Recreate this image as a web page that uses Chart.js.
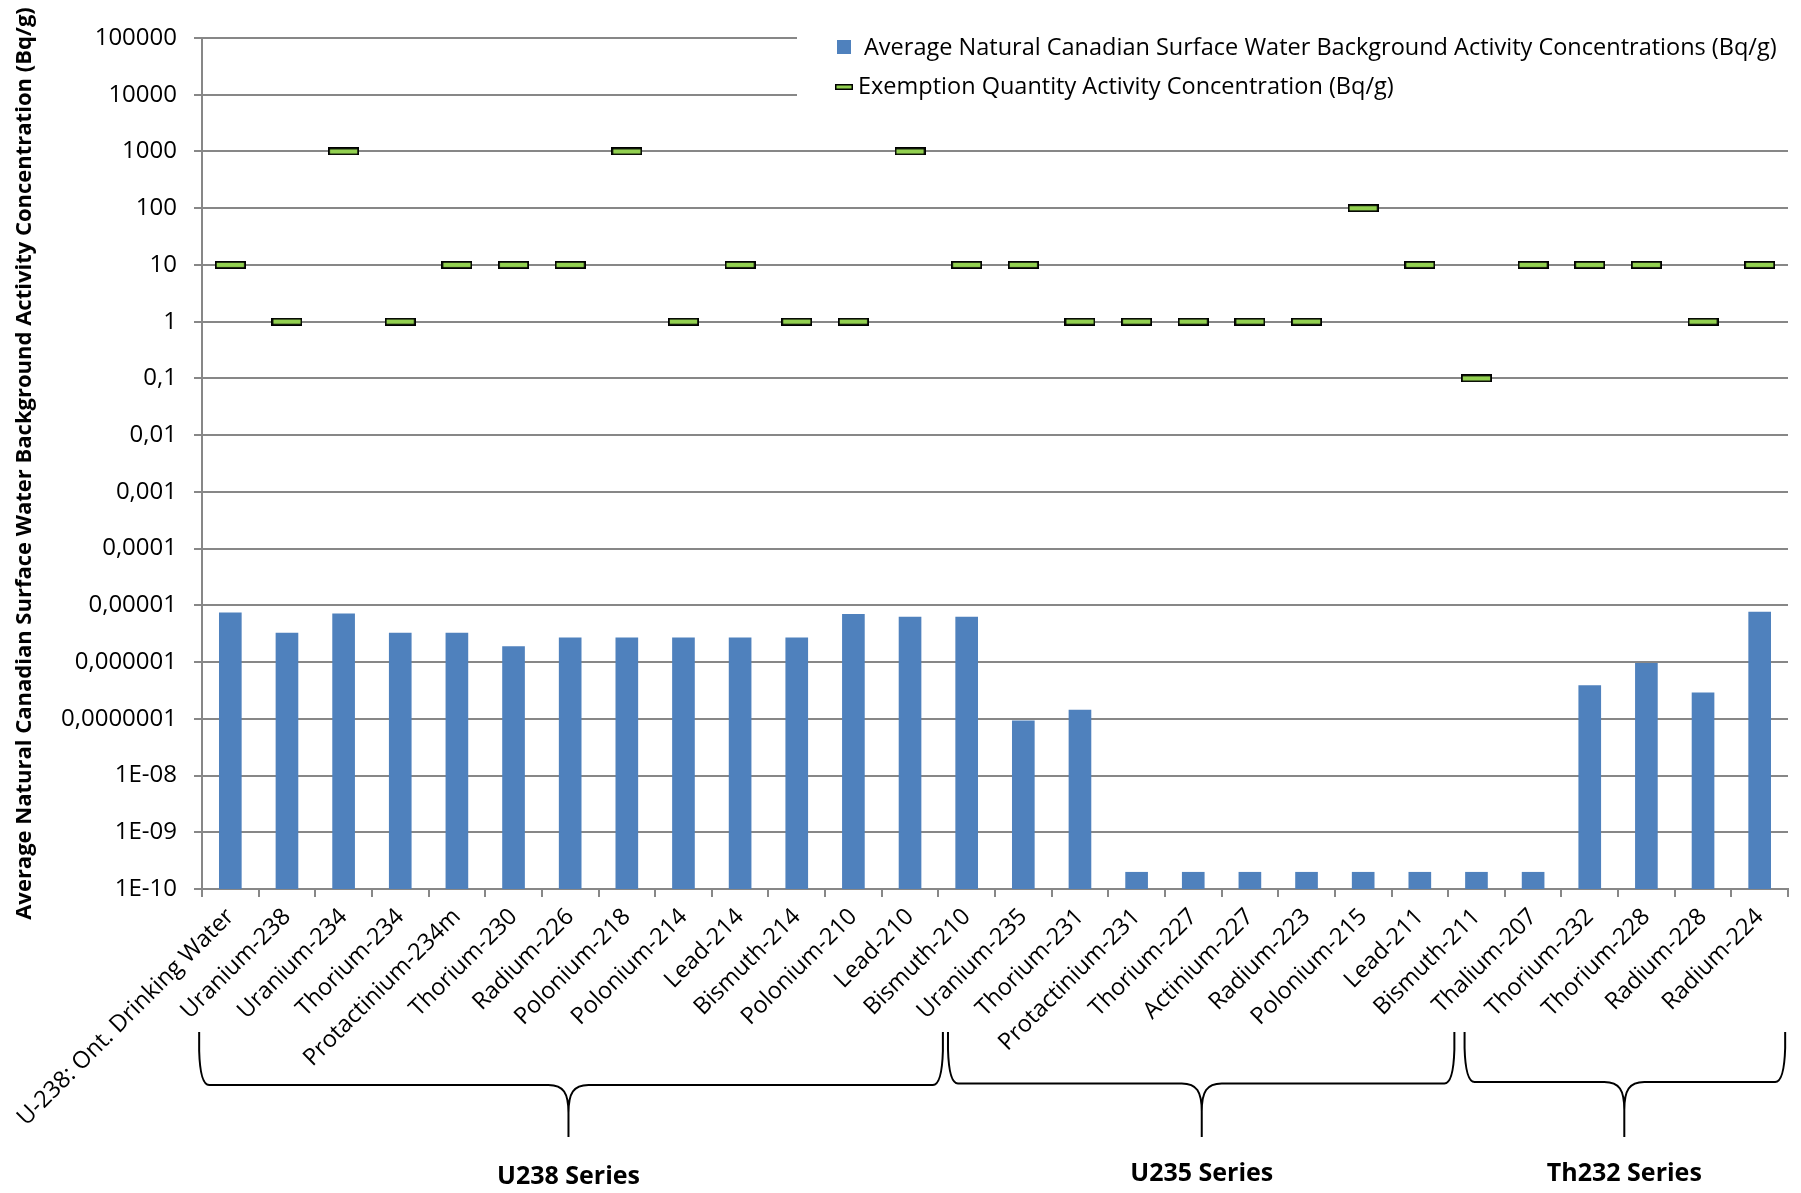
<!DOCTYPE html>
<html>
<head>
<meta charset="utf-8">
<script src="https://cdn.jsdelivr.net/npm/chart.js@4.4.1/dist/chart.umd.min.js"></script>
<style>
  html, body { margin: 0; padding: 0; background: #ffffff; }
  #wrap { width: 1801px; height: 1193px; position: relative; }
</style>
</head>
<body>
<div id="wrap"><canvas id="chart" width="1801" height="1193"></canvas></div>
<script>
// Radionuclides, in decay-series order
const categories = [
  'U-238: Ont. Drinking Water', 'Uranium-238', 'Uranium-234', 'Thorium-234', 'Protactinium-234m',
  'Thorium-230', 'Radium-226', 'Polonium-218', 'Polonium-214', 'Lead-214', 'Bismuth-214',
  'Polonium-210', 'Lead-210', 'Bismuth-210', 'Uranium-235', 'Thorium-231', 'Protactinium-231',
  'Thorium-227', 'Actinium-227', 'Radium-223', 'Polonium-215', 'Lead-211', 'Bismuth-211',
  'Thalium-207', 'Thorium-232', 'Thorium-228', 'Radium-228', 'Radium-224'
];

// Average natural Canadian surface water background activity (Bq/g)
const backgroundActivity = [
  7.5e-6, 3.3e-6, 7.2e-6, 3.3e-6, 3.3e-6, 1.9e-6, 2.7e-6, 2.7e-6, 2.7e-6, 2.7e-6, 2.7e-6,
  7.0e-6, 6.3e-6, 6.3e-6, 9.3e-8, 1.45e-7, 2e-10, 2e-10, 2e-10, 2e-10, 2e-10, 2e-10, 2e-10,
  2e-10, 3.9e-7, 9.6e-7, 2.9e-7, 7.7e-6
];

// Exemption quantity activity concentration (Bq/g)
const exemptionQuantity = [
  10, 1, 1000, 1, 10, 10, 10, 1000, 1, 10, 1, 1, 1000, 10, 10, 1, 1, 1, 1, 1, 100, 10, 0.1,
  10, 10, 10, 1, 10
];

// Decade tick labels, from 1E-10 up to 100000
const yTickLabels = [
  '1E-10', '1E-09', '1E-08', '0,0000001', '0,000001', '0,00001', '0,0001', '0,001', '0,01',
  '0,1', '1', '10', '100', '1000', '10000', '100000'
];

const seriesNames = ['Average Natural Canadian Surface Water Background Activity Concentrations (Bq/g)',
                     'Exemption Quantity Activity Concentration (Bq/g)'];
const axisTitle = 'Average Natural Canadian Surface Water Background Activity Concentration (Bq/g)';
const groupNames = ['U238 Series', 'U235 Series', 'Th232 Series'];

const FONT = 'Open Sans';
const BAR_BLUE = '#4F81BD';
const MARK_GREEN = '#92D050';
const GRID = '#878787';

// Brace extents along the category axis (in category units)
const braceLayout = [
  { from: -0.55, to: 12.58, tip: 5.97 },
  { from: 12.67, to: 21.61, tip: 17.15 },
  { from: 21.79, to: 27.45, tip: 24.61 }
];

function dashMarker(w, h, lw) {
  const c = document.createElement('canvas');
  c.width = w; c.height = h;
  const g = c.getContext('2d');
  g.fillStyle = MARK_GREEN;
  g.fillRect(0, 0, w, h);
  g.strokeStyle = '#000';
  g.lineWidth = lw;
  g.strokeRect(lw / 2, lw / 2, w - lw, h - lw);
  return c;
}
const plotMarker = dashMarker(31, 8, 1.8);
const legendMarker = dashMarker(18, 6, 1.5);

// Legend panel in the top-right of the plot, on a white ground over the grid
const legendPanel = {
  id: 'legendPanel',
  beforeDatasetsDraw(chart) {
    const ctx = chart.ctx;
    ctx.save();
    ctx.fillStyle = '#ffffff';
    ctx.fillRect(797, 24, 1801 - 797, 100);
    ctx.fillStyle = BAR_BLUE;
    ctx.fillRect(837, 40, 14, 14);
    ctx.drawImage(legendMarker, 835, 84);
    ctx.fillStyle = '#000';
    ctx.font = `23.5px "${FONT}"`;
    ctx.textBaseline = 'middle';
    ctx.textAlign = 'left';
    ctx.fillText(chart.data.datasets[0].label, 864, 48);
    ctx.fillText(chart.data.datasets[1].label, 858, 87);
    ctx.restore();
  }
};

// Curly braces grouping the decay series under the category labels
const seriesBraces = {
  id: 'seriesBraces',
  afterDraw(chart) {
    const ctx = chart.ctx;
    const xs = chart.scales.x;
    const px = v => xs.getPixelForValue(v);
    ctx.save();
    ctx.strokeStyle = '#000';
    ctx.lineWidth = 2;
    braceLayout.forEach((b, i) => {
      const L = px(b.from), R = px(b.to), T = px(b.tip);
      const y0 = 1032, y1 = 1085 - i * 1.5, y2 = 1137;
      ctx.beginPath();
      ctx.moveTo(L, y0);
      ctx.lineTo(L, y1 - 34);
      ctx.quadraticCurveTo(L + 1, y1, L + 10, y1);
      ctx.lineTo(T - 20, y1);
      ctx.bezierCurveTo(T - 5, y1, T, y1 + 8, T, y1 + 28);
      ctx.lineTo(T, y2);
      ctx.moveTo(T, y1 + 28);
      ctx.bezierCurveTo(T, y1 + 8, T + 5, y1, T + 20, y1);
      ctx.lineTo(R - 10, y1);
      ctx.quadraticCurveTo(R - 1, y1, R, y1 - 34);
      ctx.lineTo(R, y0);
      ctx.stroke();

      ctx.fillStyle = '#000';
      ctx.font = `bold 25px "${FONT}"`;
      ctx.textAlign = 'center';
      ctx.textBaseline = 'middle';
      ctx.fillText(groupNames[i], T, 1177 - (i ? 3 : 0));
    });
    ctx.restore();
  }
};

new Chart(document.getElementById('chart'), {
  data: {
    labels: categories,
    datasets: [
      {
        type: 'bar',
        label: seriesNames[0],
        data: backgroundActivity,
        backgroundColor: BAR_BLUE,
        borderWidth: 0,
        barPercentage: 0.4,
        categoryPercentage: 1,
        order: 2
      },
      {
        type: 'line',
        label: seriesNames[1],
        data: exemptionQuantity,
        showLine: false,
        pointStyle: plotMarker,
        pointRadius: 12,
        pointHoverRadius: 12,
        order: 1
      }
    ]
  },
  options: {
    responsive: false,
    animation: false,
    events: [],
    layout: { padding: { top: 38, right: 11, left: 0, bottom: 0 } },
    plugins: { legend: { display: false }, tooltip: { enabled: false } },
    scales: {
      x: {
        type: 'category',
        offset: true,
        grid: { offset: true, drawOnChartArea: false, drawTicks: true, tickLength: 8, color: GRID, lineWidth: 2 },
        border: { color: GRID, width: 2 },
        ticks: {
          autoSkip: false, minRotation: 45, maxRotation: 45, color: '#000', padding: 6,
          font: { family: FONT, size: 23.5 }
        },
        afterFit(s) { s.height = 304; s.paddingLeft = 0; s.paddingRight = 0; }
      },
      y: {
        type: 'logarithmic',
        min: 1e-10,
        max: 1e5,
        afterBuildTicks(s) { s.ticks = yTickLabels.map((_, k) => ({ value: Math.pow(10, k - 10) })); },
        grid: { color: GRID, lineWidth: 2, tickLength: 8 },
        border: { color: GRID, width: 2 },
        ticks: {
          color: '#000', padding: 17, font: { family: FONT, size: 24 },
          callback: v => yTickLabels[Math.round(Math.log10(v)) + 10]
        },
        title: {
          display: true, text: axisTitle, color: '#000',
          font: { family: FONT, size: 22, weight: 'bold' },
          padding: { top: 12, bottom: 0 }
        },
        afterFit(s) { s.width = 202; }
      }
    }
  },
  plugins: [legendPanel, seriesBraces]
});
</script>
</body>
</html>
